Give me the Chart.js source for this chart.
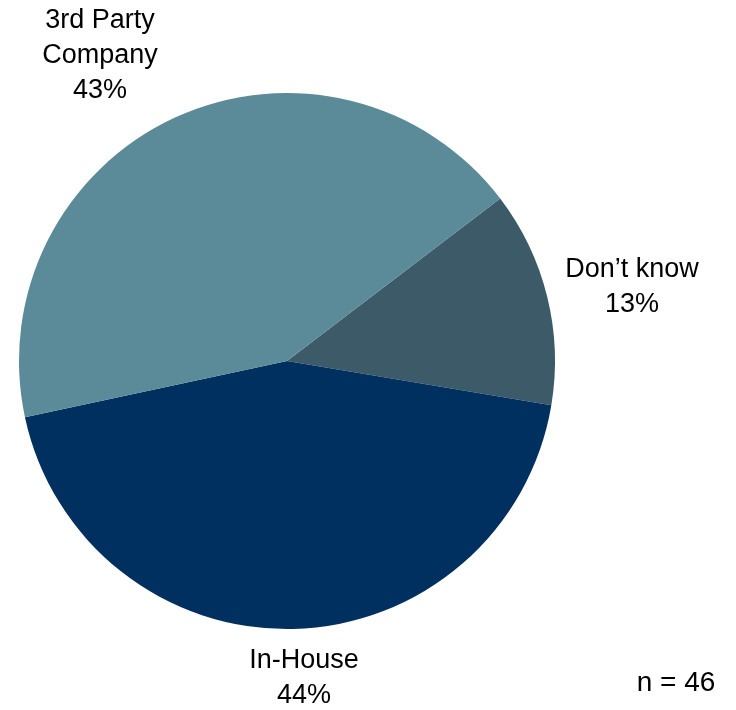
<!DOCTYPE html>
<html>
<head>
<meta charset="utf-8">
<script src="https://cdn.jsdelivr.net/npm/chart.js@4/dist/chart.umd.min.js"></script>
<style>
  html,body{margin:0;padding:0;background:#fff;}
  #wrap{width:736px;height:710px;position:relative;}
</style>
</head>
<body>
<div id="wrap"><canvas id="chart-pie" width="736" height="710"></canvas></div>
<script>
// pie data, clockwise from the "Don't know" slice
const labels = ['Don\u2019t know', 'In-House', '3rd Party Company'];
const labelLines = [['Don\u2019t know'], ['In-House'], ['3rd Party', 'Company']];
const values = [13, 44, 43];
const sliceColors = ['#3d5a69', '#00305f', '#5b8a98'];
const sampleNote = 'n = 46';

// where each label block is centred (x, y of the block centre)
const labelAnchors = [[632, 287], [304, 678], [100, 56]];
const FONT = '27px "Liberation Sans", Arial, sans-serif';
const LINE_H = 35;

const outsideLabels = {
  id:'outsideLabels',
  afterDraw(chart){
    const ctx = chart.ctx;
    ctx.save();
    ctx.font = FONT;
    ctx.fillStyle = '#000';
    ctx.textAlign = 'center';
    ctx.textBaseline = 'middle';
    const meta = chart.getDatasetMeta(0);
    meta.data.forEach((arc, i)=>{
      const lines = [...labelLines[i], values[i] + '%'];
      const [cx, cy] = labelAnchors[i];
      const top = cy - (lines.length-1)*LINE_H/2;
      lines.forEach((t, j)=> ctx.fillText(t, cx, top + j*LINE_H));
    });
    ctx.font = '28px "Liberation Sans", Arial, sans-serif';
    ctx.fillText(sampleNote, 676, 683);
    ctx.restore();
  }
};

new Chart(document.getElementById('chart-pie').getContext('2d'), {
  type:'pie',
  data:{labels, datasets:[{data:values, backgroundColor:sliceColors, borderWidth:0}]},
  options:{
    responsive:false,
    animation:false,
    rotation:52.7,
    layout:{padding:{left:19, right:181, top:93, bottom:81}},
    plugins:{legend:{display:false}, tooltip:{enabled:false}}
  },
  plugins:[outsideLabels]
});
</script>
</body>
</html>
